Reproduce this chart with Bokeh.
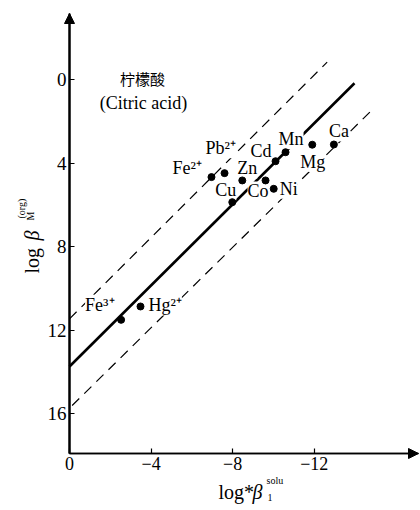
import math
from bokeh.plotting import figure
from bokeh.models import Range1d, ColumnDataSource, Label, Arrow, NormalHead, FixedTicker
from bokeh.core.properties import value
from bokeh.embed import file_html
from bokeh.resources import INLINE

# ---------------- data ----------------
ions = ["Fe²⁺", "Pb²⁺", "Zn", "Co", "Cu", "Ni", "Cd", "Mn", "Mg", "Ca", "Fe³⁺", "Hg²⁺"]
log_beta_solu = [-6.96, -7.60, -8.47, -9.61, -7.98, -10.01, -10.10, -10.59, -11.90, -12.96, -2.53, -3.48]
log_beta_org = [4.67, 4.48, 4.83, 4.83, 5.87, 5.23, 3.91, 3.48, 3.12, 3.11, 11.50, 10.86]

fit_x = [0.0, -13.97]
fit_y = [13.73, 0.18]
upper_x = [0.0, -12.63]
upper_y = [11.45, -0.83]
lower_x = [-0.13, -14.90]
lower_y = [15.60, 1.39]

x_ticks = [0, -4, -8, -12]
x_tick_labels = ["0", "−4", "−8", "−12"]
y_ticks = [0, 4, 8, 12, 16]
y_tick_labels = ["0", "4", "8", "12", "16"]

title_cn = "柠檬酸"
title_en = "(Citric acid)"

# ---------------- layout ----------------
W, H = 420, 510
X0_PX, Y0_PX = 69, 79                       # pixel of data 0
PXU_X, PXU_Y = 20.4, 20.9                   # px per unit
AXIS_Y_PX = 453                              # pixel row of x axis
TIP_X_PX, TIP_Y_PX = 418, 13                 # arrow tips


def dx(px):
    return -(px - X0_PX) / PXU_X


def dy(py):
    return (py - Y0_PX) / PXU_Y


label_dx = [-39, -19, -5, -18, -17, 6, -25, -7, -12, -5, -36, 8]
label_dy = [-9, -25, -12, 11, -12, 0, -10, -13, 17, -13, -15, -1]

SERIF = "Liberation Serif"

p = figure(width=W, height=H,
           x_range=Range1d(dx(0), dx(W)), y_range=Range1d(dy(H), dy(0)),
           output_backend="svg", toolbar_location=None,
           min_border_left=0, min_border_right=0,
           min_border_top=0, min_border_bottom=0)
p.outline_line_color = None
p.grid.visible = False
p.background_fill_color = "white"
p.border_fill_color = "white"

x_base = dy(AXIS_Y_PX)
tip_x = dx(TIP_X_PX)
tip_y = dy(TIP_Y_PX)

xa = p.xaxis[0]
ya = p.yaxis[0]
for ax, ticks, labs, lw, fs in ((xa, x_ticks, x_tick_labels, 1.5, "18px"),
                                (ya, y_ticks, y_tick_labels, 2, "19px")):
    ax.ticker = FixedTicker(ticks=ticks)
    ax.major_label_overrides = {t: l for t, l in zip(ticks, labs)}
    ax.major_tick_in = 5
    ax.major_tick_out = 0
    ax.minor_tick_line_color = None
    ax.axis_line_width = lw
    ax.axis_line_color = "black"
    ax.major_tick_line_color = "black"
    ax.major_tick_line_width = 1.2
    ax.major_label_text_font = SERIF
    ax.major_label_text_font_size = fs
    ax.major_label_text_color = "black"
    ax.major_label_standoff = 3

xa.fixed_location = x_base
ya.fixed_location = 0
xa.bounds = (tip_x, 0)
ya.bounds = (tip_y, x_base)

p.add_layout(Arrow(end=NormalHead(size=10, fill_color="black", line_color="black"),
                   x_start=0, y_start=x_base, x_end=0, y_end=tip_y, line_width=2))
p.add_layout(Arrow(end=NormalHead(size=10, fill_color="black", line_color="black"),
                   x_start=0, y_start=x_base, x_end=tip_x, y_end=x_base, line_width=1.5))

# lines
p.line(upper_x, upper_y, line_color="black", line_width=1.2, line_dash="10 7")
p.line(lower_x, lower_y, line_color="black", line_width=1.2, line_dash="10 7")
p.line(fit_x, fit_y, line_color="black", line_width=2.6)

# labels of points
src = ColumnDataSource(dict(x=log_beta_solu, y=log_beta_org, t=ions, ox=label_dx, oy=label_dy))
p.text(x="x", y="y", text="t", x_offset="ox", y_offset="oy", source=src,
       text_font=value(SERIF), text_font_size="18px", text_color="black",
       text_align="left", text_baseline="middle",
       background_fill_color="white")
p.scatter(x="x", y="y", source=src, size=7, fill_color="black", line_color="black")

# title
p.text(x=[dx(142)], y=[dy(78)], text=[title_cn], text_font=value("Noto Sans CJK SC"),
       text_font_size="15px", text_align="center", text_baseline="middle", text_color="black")
p.text(x=[dx(143)], y=[dy(102)], text=[title_en], text_font=value(SERIF),
       text_font_size="18px", text_align="center", text_baseline="middle", text_color="black")


def lab(px, py, t, size, style="normal", angle=0.0):
    p.add_layout(Label(x=dx(px), y=dy(py), text=t, text_font=SERIF, text_font_size=size,
                       text_font_style=style, text_align="left", text_baseline="alphabetic",
                       angle=angle, text_color="black"))


# x-axis title: log* β_1^solu
lab(218, 491, "log*", "20px")
lab(252, 491, "β", "20px", "italic")
lab(266, 480, "solu", "10px")
lab(267, 497, "1", "10px")

# y-axis title: log β_M^(org)
R = math.pi / 2
lab(31, 273, "log", "20px", angle=R)
lab(31, 240, "β", "20px", "italic", angle=R)
lab(30, 220, "M", "10px", angle=R)
lab(21, 218, "(org)", "10px", angle=R)

open("out.html", "w").write(file_html(p, INLINE))
